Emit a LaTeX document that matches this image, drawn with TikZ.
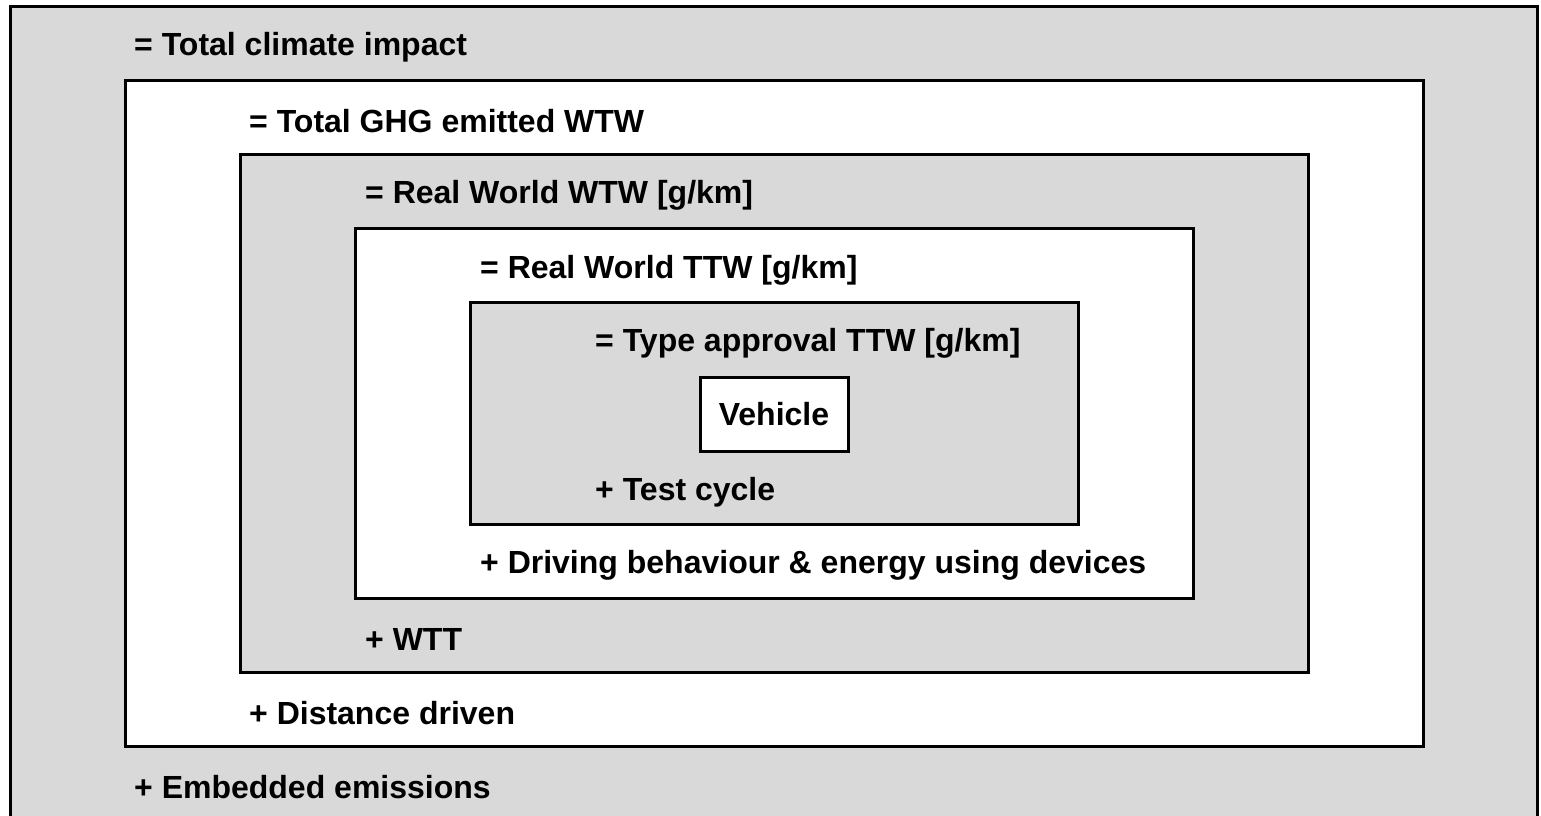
\documentclass[tikz,border=0pt]{standalone}
\usepackage{fontspec}
\setmainfont{Liberation Sans}
\definecolor{boxgray}{HTML}{D9D9D9}
\tikzset{
  lbl/.style={anchor=west, inner sep=0pt, font=\fontsize{32}{38}\selectfont\bfseries},
  frame/.style={draw=black, line width=3pt}
}
\begin{document}
\begin{tikzpicture}[x=1pt,y=-1pt]
\useasboundingbox (0,0) rectangle (1541,815);
\clip (0,0) rectangle (1541,815);

% nested boxes, outside in
\fill[boxgray] (10,6) rectangle (1537,830);
\draw[frame] (10,830) -- (10,6) -- (1537,6) -- (1537,830);
\draw[frame, fill=white] (125,80) rectangle (1423,746);
\draw[frame, fill=boxgray] (240,154) rectangle (1308,672);
\draw[frame, fill=white] (355,228) rectangle (1193,598);
\draw[frame, fill=boxgray] (470,302) rectangle (1078,524);

\node[frame, fill=white, minimum width=148pt, minimum height=74pt, font=\fontsize{32}{38}\selectfont\bfseries] (vehicle) at (774,414) {Vehicle};

% labels
\node[lbl] (total) at (134,47) {= Total climate impact};
\node[lbl] (ghg) at (249,121) {= Total GHG emitted WTW};
\node[lbl] (rwwtw) at (365,195) {= Real World WTW [g/km]};
\node[lbl] (rwttw) at (480,270) {= Real World TTW [g/km]};
\node[lbl] (tattw) at (595,343) {= Type approval TTW [g/km]};
\node[lbl] (cycle) at (595,492) {+ Test cycle};
\node[lbl] (driving) at (480,565) {+ Driving behaviour \& energy using devices};
\node[lbl] (wtt) at (365,639) {+ WTT};
\node[lbl] (distance) at (249,713) {+ Distance driven};
\node[lbl] (embedded) at (134,787) {+ Embedded emissions};
\end{tikzpicture}
\end{document}
